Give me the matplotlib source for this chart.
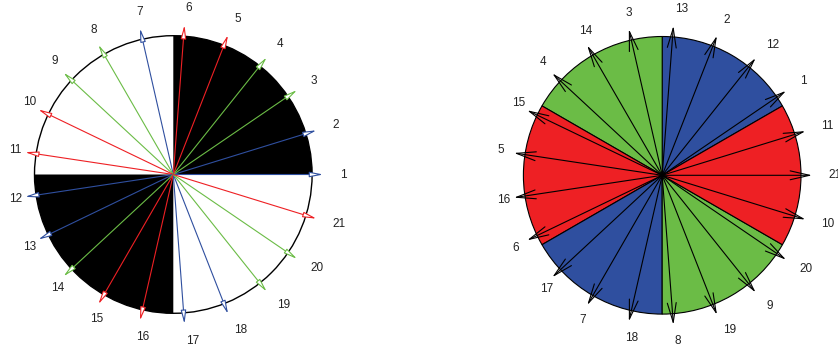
import numpy as np
import matplotlib
matplotlib.use("Agg")
import matplotlib.pyplot as plt
from matplotlib.patches import Wedge, Circle, FancyArrowPatch

plt.rcParams['font.family'] = ['Liberation Sans', 'DejaVu Sans']

# 21 slots, phasor star
slots = list(range(1, 22))
n_slots = 21
left_pole_pairs = 1
right_pole_pairs = 2
left_phase = ['A', 'A', 'C', 'C', 'B', 'B', 'A', 'C', 'C', 'B', 'B',
              'A', 'A', 'C', 'B', 'B', 'A', 'A', 'C', 'C', 'B']
phase_colors = {'A': '#2f4f9f', 'B': '#ee2024', 'C': '#6bbc46'}

# shaded zones (start angle, end angle)
left_zones = [(0, 90), (180, 270)]
right_zones = [(30, 90, 'A'), (90, 150, 'C'), (150, 210, 'B'),
               (210, 270, 'A'), (270, 330, 'C'), (330, 390, 'B')]

W, H = 838, 347
R = 138.8
c_left = (173.3, 172.5)
c_right = (662.2, 171.7)

fig = plt.figure(figsize=(W / 100, H / 100), dpi=100)
ax = fig.add_axes([0, 0, 1, 1])
ax.set_xlim(0, W)
ax.set_ylim(0, H)
ax.axis('off')


def arrow(ax, c, ang, color, style):
    a = np.deg2rad(ang)
    tip = (c[0] + 1.08 * R * np.cos(a), c[1] + 1.08 * R * np.sin(a))
    p = FancyArrowPatch(c, tip, arrowstyle=style, mutation_scale=1,
                        shrinkA=0, shrinkB=0, color=color, lw=0.8, zorder=3)
    if style.startswith('-|>'):
        p.set_facecolor('white')
    ax.add_patch(p)


def label(ax, c, ang, s):
    a = np.deg2rad(ang)
    ax.text(c[0] + 1.2 * R * np.cos(a), c[1] + 1.2 * R * np.sin(a), str(s),
            ha='left', va='center', fontsize=8.5, color='#222222')


# left star
ax.add_patch(Circle(c_left, R, fc='white', ec='black', lw=1, zorder=1))
for a0, a1 in left_zones:
    ax.add_patch(Wedge(c_left, R, a0, a1, fc='black', ec='none', zorder=2))
for k, ph in zip(slots, left_phase):
    ang = (k - 1) * left_pole_pairs * 360 / n_slots
    arrow(ax, c_left, ang, phase_colors[ph], '-|>,head_length=8,head_width=1.6')
    label(ax, c_left, ang, k)

# right star
for a0, a1, ph in right_zones:
    ax.add_patch(Wedge(c_right, R, a0, a1, fc=phase_colors[ph], ec='black',
                       lw=0.8, zorder=2))
for k in slots:
    ang = k * right_pole_pairs * 360 / n_slots
    arrow(ax, c_right, ang, 'black', '->,head_length=14,head_width=3.2')
    label(ax, c_right, ang, k)

fig.savefig('out.png', dpi=100)
